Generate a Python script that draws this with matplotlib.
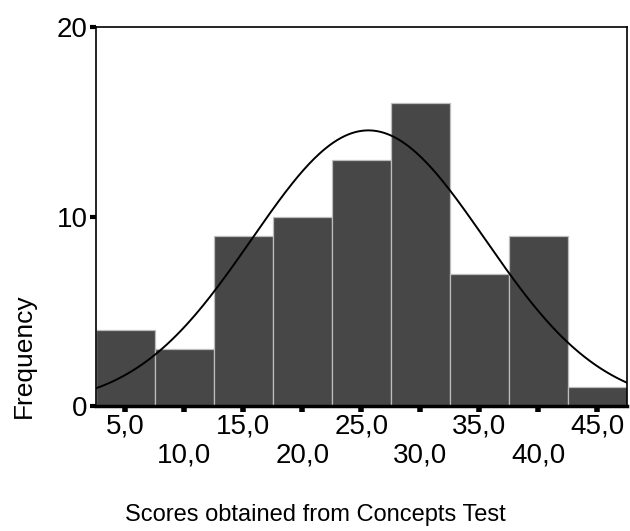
"""Histogram of Concepts Test scores with fitted normal curve."""

import matplotlib

matplotlib.use("Agg")
import matplotlib.pyplot as plt
import numpy as np

BIN_CENTERS = [5, 10, 15, 20, 25, 30, 35, 40, 45]
FREQUENCIES = [4, 3, 9, 10, 13, 16, 7, 9, 1]
BIN_WIDTH = 5
CURVE_MEAN = 25.6
CURVE_SD = 9.87
Y_TICKS = [0, 10, 20]
X_TICKS_ROW1 = [5, 15, 25, 35, 45]
X_TICKS_ROW2 = [10, 20, 30, 40]

plt.rcParams["font.family"] = ["Liberation Sans", "DejaVu Sans"]


def comma_label(value):
    return f"{value:.1f}".replace(".", ",")


fig = plt.figure(figsize=(6.3, 5.31), dpi=100)
ax = fig.add_axes([0.152, 0.235, 0.843, 0.714])

ax.bar(
    BIN_CENTERS,
    FREQUENCIES,
    width=BIN_WIDTH,
    color="#474747",
    edgecolor="#bdbdbd",
    linewidth=0.9,
    zorder=2,
)

n_total = sum(FREQUENCIES)
x_lo = BIN_CENTERS[0] - BIN_WIDTH / 2
x_hi = BIN_CENTERS[-1] + BIN_WIDTH / 2
xs = np.linspace(x_lo, x_hi, 300)
density = np.exp(-0.5 * ((xs - CURVE_MEAN) / CURVE_SD) ** 2) / (CURVE_SD * np.sqrt(2 * np.pi))
ax.plot(xs, n_total * BIN_WIDTH * density, color="black", linewidth=1.4, zorder=3)

ax.set_xlim(x_lo, x_hi)
ax.set_ylim(0, 20)

ax.set_yticks(Y_TICKS)
ax.set_yticklabels([str(t) for t in Y_TICKS], fontsize=20)
ax.set_xticks(X_TICKS_ROW1)
ax.set_xticklabels([comma_label(t) for t in X_TICKS_ROW1], fontsize=20)
ax.set_xticks(X_TICKS_ROW2, minor=True)
ax.set_xticklabels([comma_label(t) for t in X_TICKS_ROW2], minor=True, fontsize=20)
ax.tick_params(axis="x", which="major", length=4, width=4, pad=1, direction="out")
ax.tick_params(axis="x", which="minor", length=4, width=4, pad=22, direction="out")
ax.tick_params(axis="y", length=4, width=3, pad=2, direction="out")

for side in ("top", "right", "left"):
    ax.spines[side].set_linewidth(1.2)
ax.spines["bottom"].set_linewidth(2.5)

fig.text(0.038, 0.33, "Frequency", rotation=90, ha="center", va="center", fontsize=19)
fig.text(0.5, 0.03, "Scores obtained from Concepts Test", ha="center", va="center", fontsize=17)

fig.savefig("out.png", dpi=100)
